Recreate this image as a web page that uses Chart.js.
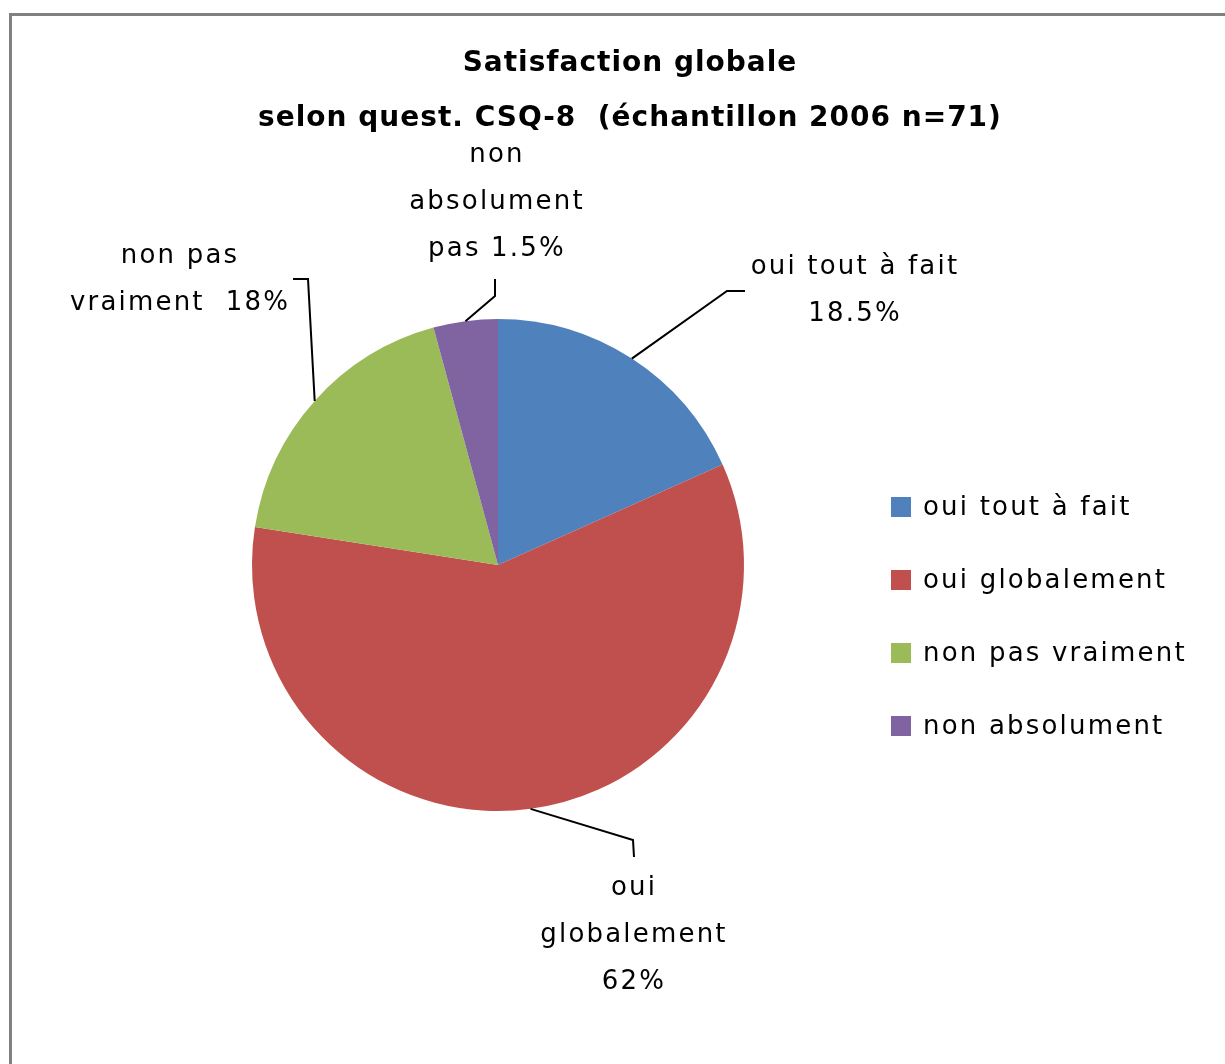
<!DOCTYPE html>
<html>
<head>
<meta charset="utf-8">
<script src="https://cdn.jsdelivr.net/npm/chart.js@4"></script>
<style>
  html, body { margin: 0; padding: 0; background: #fff; }
  #wrap { width: 1225px; height: 1064px; position: relative; }
</style>
</head>
<body>
<div id="wrap"><canvas id="pie"></canvas></div>
<script>
// Data (slices are proportional to counts out of n=71)
const categories = ['oui tout à fait', 'oui globalement', 'non pas vraiment', 'non absolument'];
const counts = [13, 42, 13, 3];
const colors = ['#4F81BD', '#C0504D', '#9BBB59', '#8064A2'];
// data labels as typed on the chart
const dataLabels = [
  ['oui tout à fait', '18.5%'],
  ['oui', 'globalement', '62%'],
  ['non pas', 'vraiment  18%'],
  ['non', 'absolument', 'pas 1.5%']
];
const titleLines = ['Satisfaction globale', 'selon quest. CSQ-8  (échantillon 2006 n=71)'];

const FONT = '"DejaVu Sans", sans-serif';

// where each data label sits and the two bend points of its leader line
const labelPlace = [
  { x: 855, y: 267, leader: [[745, 291], [727, 291]] },
  { x: 634, y: 888, leader: [[634, 857], [633, 840]] },
  { x: 180, y: 256, leader: [[293, 279], [308, 279]] },
  { x: 497, y: 155, leader: [[495, 279], [495, 296]] }
];

const decor = {
  id: 'decor',
  afterDraw(chart) {
    const ctx = chart.ctx;
    ctx.save();
    // outer frame (only top and left visible)
    ctx.fillStyle = '#808080';
    ctx.fillRect(9, 13, 1225 - 9, 3);
    ctx.fillRect(9, 13, 3, 1064 - 13);

    // title
    ctx.fillStyle = '#000';
    ctx.textAlign = 'center';
    ctx.textBaseline = 'middle';
    ctx.font = 'bold 28px ' + FONT;
    ctx.letterSpacing = '1px';
    ctx.fillText(titleLines[0], 630, 64);
    ctx.fillText(titleLines[1], 630, 119);

    // data labels with leader lines
    const meta = chart.getDatasetMeta(0);
    ctx.font = '26px ' + FONT;
    ctx.letterSpacing = '2.2px';
    ctx.strokeStyle = '#000';
    ctx.lineWidth = 2;
    meta.data.forEach((arc, i) => {
      const p = labelPlace[i];
      const mid = (arc.startAngle + arc.endAngle) / 2;
      const ex = arc.x + Math.cos(mid) * arc.outerRadius;
      const ey = arc.y + Math.sin(mid) * arc.outerRadius;
      ctx.beginPath();
      ctx.moveTo(p.leader[0][0], p.leader[0][1]);
      ctx.lineTo(p.leader[1][0], p.leader[1][1]);
      ctx.lineTo(ex, ey);
      ctx.stroke();
      dataLabels[i].forEach((t, k) => {
        ctx.fillText(t, p.x, p.y + k * 47);
      });
    });

    // legend
    ctx.textAlign = 'left';
    categories.forEach((c, i) => {
      const y = 507 + i * 73;
      ctx.fillStyle = colors[i];
      ctx.fillRect(891, y - 10, 20, 20);
      ctx.fillStyle = '#000';
      ctx.fillText(c, 923, y + 1);
    });
    ctx.restore();
  }
};

new Chart(document.getElementById('pie'), {
  type: 'pie',
  data: {
    labels: categories,
    datasets: [{
      data: counts,
      backgroundColor: colors,
      borderWidth: 0
    }]
  },
  options: {
    responsive: true,
    maintainAspectRatio: false,
    animation: false,
    layout: { padding: { left: 252, right: 481, top: 319, bottom: 253 } },
    plugins: {
      legend: { display: false },
      tooltip: { enabled: false }
    }
  },
  plugins: [decor]
});
</script>
</body>
</html>
